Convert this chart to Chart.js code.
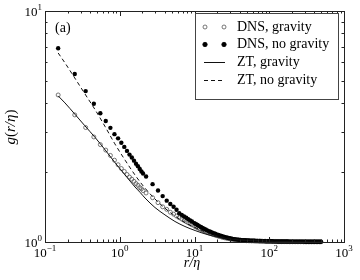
<!DOCTYPE html>
<html>
<head>
<meta charset="utf-8">
<script src="https://cdn.jsdelivr.net/npm/chart.js@4.4.0/dist/chart.umd.min.js"></script>
<style>
  html, body { margin: 0; padding: 0; background: #fff; }
  canvas { display: block; }
</style>
</head>
<body>
<canvas id="grChart" width="360" height="280"></canvas>
<script>
// r/eta sample positions of the DNS points (fine bins, coarse bins, then the dense tail)
const dnsR = [
  0.15, 0.25, 0.35, 0.45, 0.55, 0.65, 0.75, 0.85, 0.95, 1.05,
  1.15, 1.25, 1.35, 1.45, 1.55, 1.65, 1.75, 1.85, 1.95, 2.05,
  2.25, 2.75, 3.25, 3.75, 4.25, 4.75, 5.25, 5.75, 6.25,
  6.75, 7.25, 7.75, 8.25, 8.75, 9.25,
  10, 10.5, 11, 11.6, 12.2, 12.8, 13.4, 14.1, 14.8, 15.5,
  16.3, 17.1, 18, 18.9, 19.8, 20.8, 21.8, 22.9, 24, 25.2,
  26.5, 27.8, 29.2, 30.7, 32.2, 33.8, 35.5, 37.3, 39.1, 41,
  43, 45.2, 47.5, 49.9, 52.4, 55, 57.8, 60.7, 63.7, 66.9,
  70.2, 73.7, 77.4, 81.3, 85.4, 89.6, 94.1, 98.8, 104, 109,
  114, 120, 126, 132, 139, 146, 153, 161, 169, 177,
  186, 195, 205, 215, 226, 237, 249, 261, 274, 288,
  302, 317, 333, 350, 367, 386, 405, 425, 446, 468, 491
];
const dnsGravity = [
  4.33, 3.55, 3.13, 2.85, 2.64, 2.50, 2.37, 2.26, 2.16, 2.08,
  2.02, 1.96, 1.91, 1.87, 1.83, 1.79, 1.76, 1.72, 1.70, 1.67,
  1.63, 1.555, 1.48, 1.42, 1.385, 1.345, 1.32, 1.295, 1.274,
  1.257, 1.240, 1.225, 1.211, 1.199, 1.187,
  1.171, 1.162, 1.153, 1.143, 1.134, 1.126, 1.118, 1.110, 1.103, 1.096,
  1.089, 1.083, 1.077, 1.071, 1.066, 1.061, 1.056, 1.052, 1.047, 1.043,
  1.040, 1.036, 1.033, 1.030, 1.027, 1.025, 1.023, 1.020, 1.018, 1.017,
  1.016, 1.015, 1.014, 1.013, 1.013, 1.012, 1.011, 1.011, 1.010, 1.009,
  1.009, 1.008, 1.008, 1.007, 1.007, 1.007, 1.006, 1.006, 1.006, 1.005,
  1.005, 1.005, 1.004, 1.004, 1.004, 1.004, 1.004, 1.004, 1.004, 1.004,
  1.003, 1.003, 1.003, 1.003, 1.003, 1.003, 1.003, 1.003, 1.003, 1.002,
  1.002, 1.002, 1.002, 1.002, 1.002, 1.002, 1.002, 1.002, 1.002, 1.002, 1.002
];
const dnsNoGravity = [
  6.9, 5.34, 4.5, 3.97, 3.61, 3.34, 3.12, 2.93, 2.81, 2.69,
  2.58, 2.48, 2.39, 2.32, 2.25, 2.18, 2.13, 2.07, 2.02, 1.98,
  1.92, 1.78, 1.67, 1.58, 1.51, 1.46, 1.42, 1.38, 1.332,
  1.311, 1.291, 1.273, 1.256, 1.240, 1.226,
  1.207, 1.195, 1.184, 1.172, 1.161, 1.151, 1.142, 1.132, 1.123, 1.115,
  1.107, 1.099, 1.092, 1.085, 1.079, 1.072, 1.067, 1.061, 1.056, 1.052,
  1.047, 1.043, 1.039, 1.036, 1.032, 1.029, 1.027, 1.024, 1.022, 1.020,
  1.019, 1.018, 1.017, 1.016, 1.015, 1.014, 1.013, 1.013, 1.012, 1.011,
  1.011, 1.010, 1.010, 1.009, 1.009, 1.008, 1.008, 1.007, 1.007, 1.007,
  1.006, 1.006, 1.006, 1.005, 1.005, 1.005, 1.005, 1.005, 1.005, 1.005,
  1.004, 1.004, 1.004, 1.004, 1.004, 1.004, 1.004, 1.004, 1.004, 1.004,
  1.003, 1.003, 1.003, 1.003, 1.003, 1.003, 1.003, 1.003, 1.003, 1.003, 1.003
];

// ZT model curves
const ztR = [0.15, 0.185, 0.25, 0.34, 0.47, 0.64, 0.86, 1.18, 1.6, 1.87, 2.18, 2.96, 4.03, 5.48, 7.46, 10.2, 14.7, 21.9, 40.6, 75, 190, 500];
const ztGravity = [4.29, 4.00, 3.58, 3.19, 2.83, 2.50, 2.21, 1.95, 1.73, 1.64, 1.55, 1.41, 1.31, 1.227, 1.167, 1.121, 1.078, 1.046, 1.02, 1.01, 1.004, 1.0];
const ztNoGravity = [6.58, 5.96, 5.13, 4.39, 3.73, 3.15, 2.66, 2.26, 1.95, 1.82, 1.71, 1.535, 1.40, 1.296, 1.214, 1.155, 1.099, 1.056, 1.024, 1.012, 1.004, 1.0];

// tick labels (as powers of ten)
const xTicks = [0.1, 1, 10, 100, 1000];
const xTickExp = ["\u22121", "0", "1", "2", "3"];
const yTicks = [1, 10];
const yTickExp = ["0", "1"];

const legendLabels = ["DNS, gravity", "DNS, no gravity", "ZT, gravity", "ZT, no gravity"];

const serif = '"Liberation Serif", "DejaVu Serif", serif';

function pairs(xs, ys) {
  return xs.map((x, i) => ({ x: x, y: ys[i] }));
}

function drawPow(ctx, x, y, exp, align) {
  ctx.font = '13px ' + serif;
  const w1 = ctx.measureText("10").width;
  ctx.font = '9px ' + serif;
  const w2 = ctx.measureText(exp).width;
  let start = align === "right" ? x - w1 - w2 : x - (w1 + w2) / 2;
  ctx.textAlign = "left";
  ctx.textBaseline = "alphabetic";
  ctx.font = '13px ' + serif;
  ctx.fillText("10", start, y);
  ctx.font = '9px ' + serif;
  ctx.fillText(exp, start + w1, y - 6);
}

function drawPieces(ctx, pieces, x, y, size) {
  let total = 0;
  pieces.forEach(p => {
    ctx.font = (p[1] ? "italic " : "") + size + "px " + serif;
    total += ctx.measureText(p[0]).width;
  });
  let cx = x - total / 2;
  ctx.textAlign = "left";
  pieces.forEach(p => {
    ctx.font = (p[1] ? "italic " : "") + size + "px " + serif;
    ctx.fillText(p[0], cx, y);
    cx += ctx.measureText(p[0]).width;
  });
}

const framePlugin = {
  id: "frame",
  afterDraw(chart) {
    const ctx = chart.ctx;
    const ca = chart.chartArea;
    const xs = chart.scales.x, ys = chart.scales.y;
    ctx.save();
    ctx.strokeStyle = "#222";
    ctx.lineWidth = 1;
    ctx.strokeRect(Math.round(ca.left) + 0.5, Math.round(ca.top) + 0.5,
      Math.round(ca.right - ca.left), Math.round(ca.bottom - ca.top));

    // inward ticks on all four sides
    ctx.beginPath();
    xTicks.forEach((v, i) => {
      for (let k = 1; k <= 9; k++) {
        const val = v * k;
        if (val > 1000 || (k > 1 && i === xTicks.length - 1)) continue;
        const len = k === 1 ? 5 : 2.5;
        const px = Math.round(xs.getPixelForValue(val)) + 0.5;
        ctx.moveTo(px, ca.bottom); ctx.lineTo(px, ca.bottom - len);
        ctx.moveTo(px, ca.top); ctx.lineTo(px, ca.top + len);
      }
    });
    for (let k = 1; k <= 10; k++) {
      const len = (k === 1 || k === 10) ? 5 : 2.5;
      const py = Math.round(ys.getPixelForValue(k)) + 0.5;
      ctx.moveTo(ca.left, py); ctx.lineTo(ca.left + len, py);
      ctx.moveTo(ca.right, py); ctx.lineTo(ca.right - len, py);
    }
    ctx.stroke();

    ctx.fillStyle = "#000";
    xTicks.forEach((v, i) => {
      drawPow(ctx, xs.getPixelForValue(v), ca.bottom + 15, xTickExp[i], "center");
    });
    yTicks.forEach((v, i) => {
      drawPow(ctx, ca.left - 3, ys.getPixelForValue(v) + 5, yTickExp[i], "right");
    });

    // axis titles
    drawPieces(ctx, [["r/\u03b7", true]], 192, 267, 14);
    ctx.save();
    ctx.translate(15, 127);
    ctx.rotate(-Math.PI / 2);
    drawPieces(ctx, [["g", true], ["(", false], ["r/\u03b7", true], [")", false]], 0, 0, 15);
    ctx.restore();

    // panel label
    ctx.font = '14px ' + serif;
    ctx.textAlign = "left";
    ctx.fillText("(a)", 55, 32);

    // legend
    const lx = 195, ly = 13, lw = 143, lh = 86;
    ctx.fillStyle = "#fff";
    ctx.fillRect(lx, ly, lw, lh);
    ctx.strokeStyle = "#444";
    ctx.strokeRect(lx + 0.5, ly + 0.5, lw, lh);
    const rows = [27, 44.5, 62, 80];
    const ds = chart.data.datasets;
    rows.forEach((ry, i) => {
      const d = ds[i];
      if (d.showLine) {
        ctx.beginPath();
        ctx.strokeStyle = d.borderColor;
        ctx.lineWidth = d.borderWidth;
        ctx.setLineDash(d.borderDash || []);
        ctx.moveTo(204, ry + 0.5); ctx.lineTo(225, ry + 0.5);
        ctx.stroke();
        ctx.setLineDash([]);
      } else {
        [205, 224].forEach(mx => {
          ctx.beginPath();
          ctx.arc(mx, ry, d.pointRadius, 0, Math.PI * 2);
          ctx.fillStyle = d.pointBackgroundColor;
          ctx.fill();
          ctx.lineWidth = d.pointBorderWidth;
          ctx.strokeStyle = d.pointBorderColor;
          ctx.stroke();
        });
      }
      ctx.fillStyle = "#000";
      ctx.font = '14px ' + serif;
      ctx.textAlign = "left";
      ctx.textBaseline = "middle";
      ctx.fillText(legendLabels[i], 237, ry);
      ctx.textBaseline = "alphabetic";
    });
    ctx.restore();
  }
};

new Chart(document.getElementById("grChart"), {
  type: "scatter",
  data: {
    datasets: [
      {
        label: legendLabels[0],
        data: pairs(dnsR, dnsGravity),
        showLine: false,
        pointRadius: 2,
        pointBorderWidth: 0.8,
        pointBorderColor: "#555",
        pointBackgroundColor: "rgba(255,255,255,0)",
        clip: false,
        order: 2
      },
      {
        label: legendLabels[1],
        data: pairs(dnsR, dnsNoGravity),
        showLine: false,
        pointRadius: 2.2,
        pointBorderWidth: 0,
        pointBorderColor: "#000",
        pointBackgroundColor: "#000",
        clip: false,
        order: 1
      },
      {
        label: legendLabels[2],
        data: pairs(ztR, ztGravity),
        showLine: true,
        borderColor: "#111",
        borderWidth: 1,
        pointRadius: 0,
        cubicInterpolationMode: "monotone",
        order: 0
      },
      {
        label: legendLabels[3],
        data: pairs(ztR, ztNoGravity),
        showLine: true,
        borderColor: "#111",
        borderWidth: 1,
        borderDash: [4, 3],
        pointRadius: 0,
        cubicInterpolationMode: "monotone",
        order: 0
      }
    ]
  },
  options: {
    responsive: false,
    animation: false,
    layout: { padding: { left: 45, top: 11, right: 16, bottom: 38 } },
    plugins: { legend: { display: false }, tooltip: { enabled: false } },
    scales: {
      x: { type: "logarithmic", min: 0.1, max: 1000, display: false },
      y: { type: "logarithmic", min: 1, max: 10, display: false }
    }
  },
  plugins: [framePlugin]
});
</script>
</body>
</html>
